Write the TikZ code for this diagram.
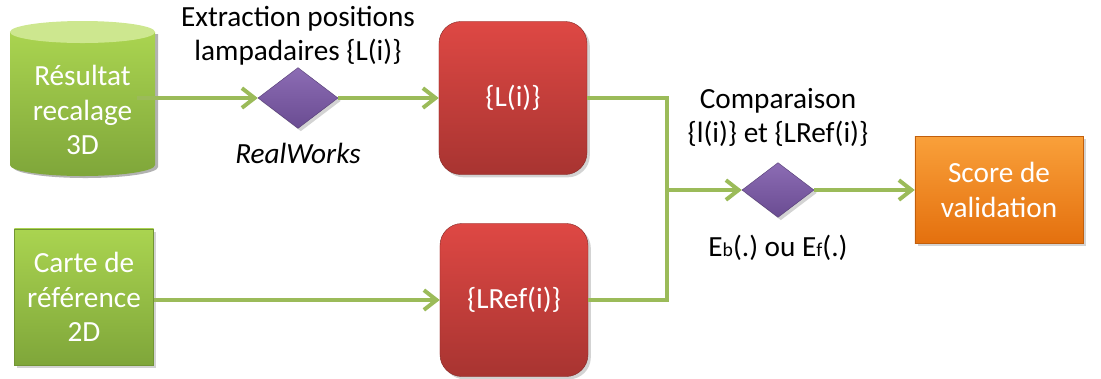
\documentclass[tikz,border=0pt]{standalone}
\usepackage{fontspec}
\setmainfont{Carlito}
\usepackage{tikz}
\usetikzlibrary{
  arrows.meta,
  calc,
  positioning,
  shadows,
  shapes.geometric
}
\definecolor{flowgreen}{HTML}{9BBB59}
\definecolor{greentop}{HTML}{AAD450}
\definecolor{greenbot}{HTML}{7FA63A}
\definecolor{greenlid}{HTML}{CDE78F}
\definecolor{redtop}{HTML}{DE4844}
\definecolor{redbot}{HTML}{A83431}
\definecolor{purptop}{HTML}{8C6CB4}
\definecolor{purpbot}{HTML}{6A4C92}
\definecolor{orangetop}{HTML}{F9A03A}
\definecolor{orangebot}{HTML}{E4700E}
\tikzset{>=stealth}
\tikzset{
  every node/.style={font=\fontsize{20.8}{24.5}\selectfont},
  flow/.style={draw=flowgreen, line width=2.8pt},
  flowarrow/.style={flow, -{Straight Barb[length=9pt,width=14pt]}},
  softshadow/.style={drop shadow={opacity=0.35, shadow xshift=2pt, shadow yshift=-2pt}},
  greenbox/.style={rectangle, minimum width=3.475cm, minimum height=3.4cm,
    top color=greentop, bottom color=greenbot, draw=greenbot!90!black, line width=0.3pt,
    text=white, align=center, softshadow},
  redbox/.style={rectangle, rounded corners=0.55cm, minimum width=3.7cm, minimum height=3.825cm,
    top color=redtop, bottom color=redbot, draw=redbot!80!black, line width=0.3pt,
    text=white, align=center, softshadow},
  orangebox/.style={rectangle, minimum width=4.2cm, minimum height=2.675cm,
    top color=orangetop, bottom color=orangebot, draw=orangebot!85!black, line width=0.3pt,
    text=white, align=center, softshadow},
  decision/.style={diamond, inner sep=0pt, minimum width=#1, minimum height=0.76*#1,
    top color=purptop, bottom color=purpbot, draw=purpbot!80!black, line width=0.3pt, softshadow},
  caption/.style={align=center, inner sep=0pt}
}

\begin{document}
\begin{tikzpicture}[x=0.025cm, y=-0.025cm]
  \useasboundingbox (0,0) rectangle (1101,378);
  % cylindre du recalage 3D
  \fill[black, opacity=0.3] (13,34) -- (13,167) arc[start angle=180, end angle=360, x radius=1.8125cm, y radius=0.275cm] -- (158,34) -- cycle;
  \shade[top color=greentop, bottom color=greenbot] (10,32) -- (10,165) arc[start angle=180, end angle=360, x radius=1.8125cm, y radius=0.275cm] -- (155,32) -- cycle;
  \fill[greenlid] (82.5,32) ellipse[x radius=1.8125cm, y radius=0.275cm];
  \node[text=white, align=center] (res3d) at (82.5,110) {Résultat\\recalage\\3D};
  \node[greenbox] (carte) at (84,297) {Carte de\\référence\\2D};
  \node[decision=2cm] (d1) at (298,98) {};
  \node[redbox] (lbox) at (513,98) {\{L(i)\}};
  \node[redbox] (lref) at (514,300) {\{LRef(i)\}};
  \node[decision=1.8cm] (d2) at (778,190) {};
  \node[orangebox] (score) at (999,190) {Score de\\validation};
  \coordinate (jn) at (667,190);
  % textes
  \node[caption, above=1pt of d1] {Extraction positions\\lampadaires \{L(i)\}};
  \node[caption, below=10pt of d1] {\itshape RealWorks};
  \node[caption, above=11pt of d2] {Comparaison\\\{l(i)\} et \{LRef(i)\}};
  \node[caption, below=12pt of d2] {E{\fontsize{14}{14}\selectfont b}(.)~ou~E{\fontsize{14}{14}\selectfont f}(.)};
  % liaisons
  \draw[flowarrow] (res3d.east |- d1.west) ++(0.3,0) -- (d1.west);
  \draw[flowarrow] (d1.east) -- (lbox.west);
  \draw[flowarrow] (carte.east |- lref.west) -- (lref.west);
  \draw[flow] (lbox.east) -| (jn);
  \draw[flow] (lref.east) -| (jn);
  \draw[flowarrow] ([xshift=-1.4pt]jn) -- (d2.west);
  \draw[flowarrow] (d2.east) -- (score.west);
\end{tikzpicture}
\end{document}
